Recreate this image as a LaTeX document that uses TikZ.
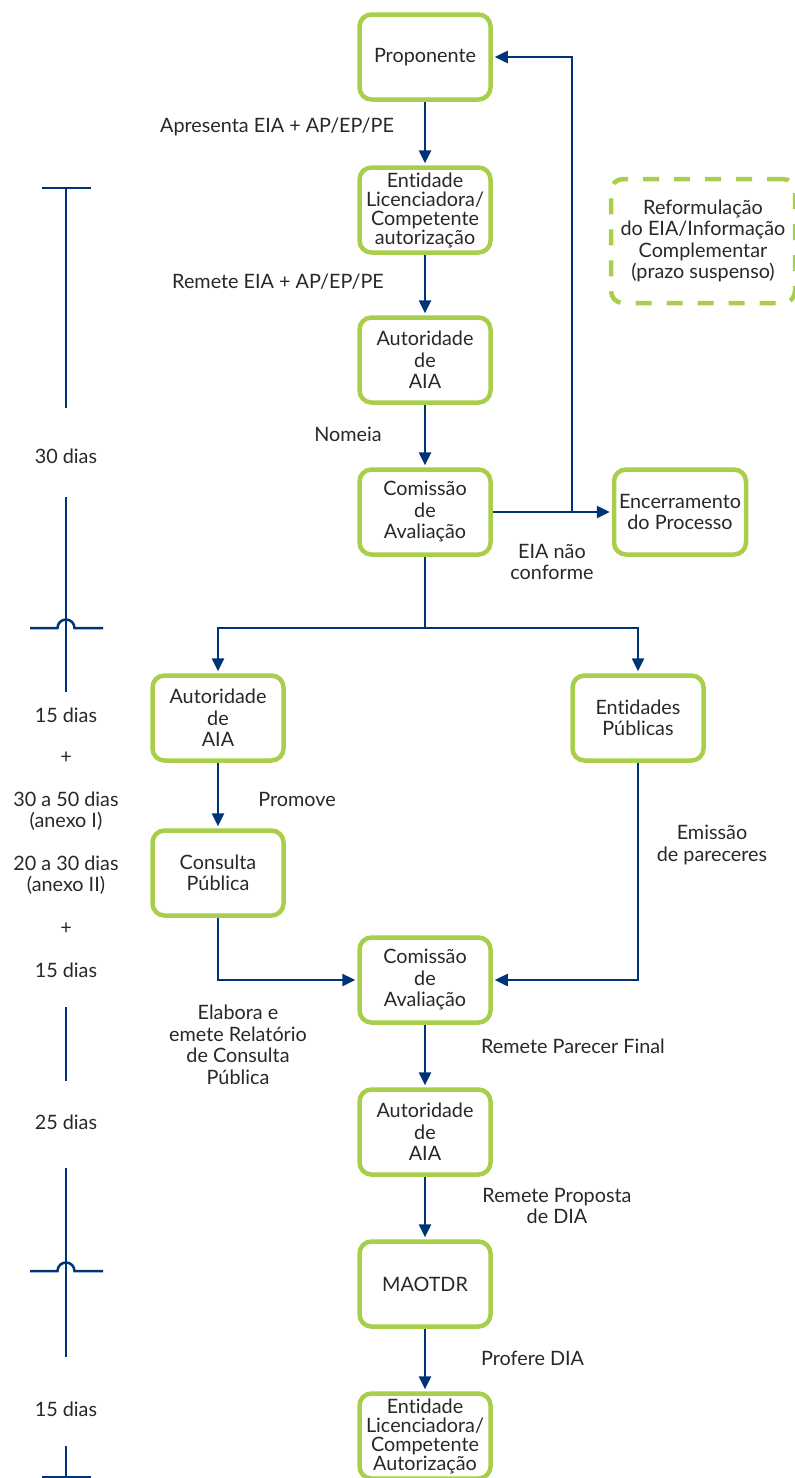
\documentclass[tikz,border=0pt]{standalone}
\usepackage{fontspec}
\setmainfont{Lato}[Ligatures={CommonOff}]
\usetikzlibrary{arrows.meta}
\definecolor{navy}{RGB}{0,52,120}
\definecolor{lime}{RGB}{168,207,75}
\definecolor{ink}{RGB}{40,40,40}
\newcommand\dfont{\fontsize{19.8}{21.5}\selectfont}
\newcommand\tfont{\fontsize{19.8}{19}\selectfont}
\begin{document}
\begin{tikzpicture}[x=1pt,y=-1pt,
  box/.style={draw=lime, line width=4.5pt, rounded corners=12pt, minimum width=131pt, minimum height=85pt, align=center, inner sep=2pt, text=ink, font=\dfont},
  tbox/.style={box, font=\tfont},
  dbox/.style={box, dash pattern=on 16pt off 15pt, minimum width=184pt, minimum height=124pt},
  lbl/.style={text=ink, font=\dfont, align=center, inner sep=0pt},
  flow/.style={draw=navy, line width=2.5pt, -{Triangle[length=13pt,width=12pt]}, shorten >=2pt},
  link/.style={draw=navy, line width=2.5pt},
  tl/.style={draw=navy, line width=2.5pt}
]
\useasboundingbox (0,0) rectangle (795,1478);

% boxes
\node[box] (prop) at (425,57) {Proponente};
\node[tbox] (ent1) at (425,210) {Entidade\\Licenciadora/\\Competente\\autorização};
\node[box] (aut1) at (425,360) {Autoridade\\de\\AIA};
\node[box] (com1) at (425,512) {Comissão\\de\\Avaliação};
\node[box, minimum width=132pt] (enc) at (680,512) {Encerramento\\do Processo};
\node[dbox] (ref) at (703,241) {Reformulação\\do EIA/Informação\\Complementar\\(prazo suspenso)};
\node[box] (aut2) at (218,718) {Autoridade\\de\\AIA};
\node[box] (entp) at (638,718) {Entidades\\Públicas};
\node[box] (cons) at (218,873) {Consulta\\Pública};
\node[box] (com2) at (425,980) {Comissão\\de\\Avaliação};
\node[box] (aut3) at (425,1132) {Autoridade\\de\\AIA};
\node[box] (mao) at (425,1284) {MAOTDR};
\node[tbox] (ent2) at (425,1436) {Entidade\\Licenciadora/\\Competente\\Autorização};

% connectors
\draw[flow] (prop) -- (ent1);
\draw[flow] (ent1) -- (aut1);
\draw[flow] (aut1) -- (com1);
\draw[flow] (com1) -- (enc);
\coordinate (back) at (572,512);
\draw[flow] (back) |- (prop.east);
\coordinate (split) at (425,628);
\draw[link] (com1.south) -- (split);
\draw[flow] (split) -| (aut2.north);
\draw[flow] (split) -| (entp.north);
\draw[flow] (aut2) -- (cons);
\draw[flow] (cons.south) |- (com2.west);
\draw[flow] (entp.south) |- (com2.east);
\draw[flow] (com2) -- (aut3);
\draw[flow] (aut3) -- (mao);
\draw[flow] (mao) -- (ent2);

% connector labels
\node[lbl] (l1) at (277,127) {Apresenta EIA + AP/EP/PE};
\node[lbl] (l2) at (278,282) {Remete EIA + AP/EP/PE};
\node[lbl] (l3) at (348,434) {Nomeia};
\node[lbl] (l4) at (552,562) {EIA não\\conforme};
\node[lbl] (l5) at (297,799) {Promove};
\node[lbl] (l6) at (712,845) {Emissão\\de pareceres};
\node[lbl] (l7) at (238,1045) {Elabora e\\emete Relatório\\de Consulta\\Pública};
\node[lbl, anchor=west] (l8) at (481,1046) {Remete Parecer Final};
\node[lbl] (l9) at (557,1206) {Remete Proposta\\de DIA};
\node[lbl, anchor=west] (l10) at (481,1358) {Profere DIA};

% timeline
\draw[tl] (42,188) -- (91,188);
\draw[tl] (66,188) -- (66,408);
\node[lbl] (d1) at (66,456) {30 dias};
\draw[tl] (66,497) -- (66,692);
\draw[tl] (30,628) -- (57.5,628) arc[start angle=180, end angle=0, radius=8.5pt] -- (103,628);
\node[lbl] (d2) at (66,715) {15 dias};
\node[lbl] (p1) at (66,758) {+};
\node[lbl] (d3) at (66,811) {30 a 50 dias\\(anexo I)};
\node[lbl] (d4) at (66,875) {20 a 30 dias\\(anexo II)};
\node[lbl] (p2) at (66,929) {+};
\node[lbl] (d5) at (66,970) {15 dias};
\draw[tl] (66,1007) -- (66,1081);
\node[lbl] (d6) at (66,1122) {25 dias};
\draw[tl] (66,1168) -- (66,1357);
\draw[tl] (30,1271) -- (57.5,1271) arc[start angle=180, end angle=0, radius=8.5pt] -- (103,1271);
\node[lbl] (d7) at (66,1409) {15 dias};
\draw[tl] (66,1446) -- (66,1477);
\draw[tl] (42,1477) -- (91,1477);
\end{tikzpicture}
\end{document}
